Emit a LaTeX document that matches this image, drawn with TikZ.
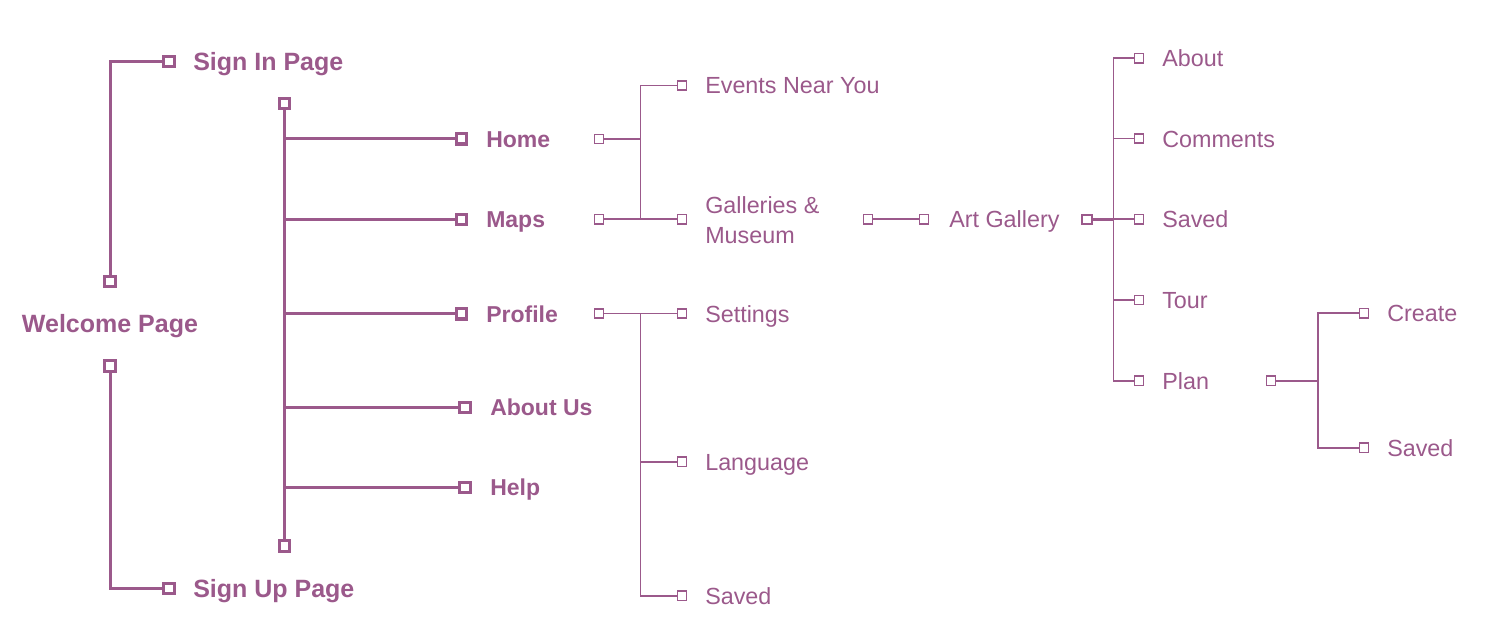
\documentclass[tikz,border=0pt]{standalone}
\usepackage{fontspec}
\setmainfont{Liberation Sans}
\definecolor{plum}{RGB}{155,89,139}
\begin{document}
\begin{tikzpicture}[x=0.75pt,y=-0.75pt]
\tikzset{
 thickbox/.style={draw=plum, line width=2.3pt, minimum size=7.8pt, inner sep=0pt, fill=white},
 thinbox/.style={draw=plum, line width=1.2pt, minimum size=6.9pt, inner sep=0pt, fill=white},
 thickline/.style={draw=plum, line width=2.25pt},
 thinline/.style={draw=plum, line width=1.2pt},
 bigbold/.style={text=plum, font=\fontsize{18.75pt}{22pt}\selectfont\bfseries, anchor=base west, inner sep=0pt, yshift=-6.7pt},
 navbold/.style={text=plum, font=\fontsize{17.25pt}{21pt}\selectfont\bfseries, anchor=base west, inner sep=0pt, yshift=-6.2pt},
 lbl/.style={text=plum, font=\fontsize{17.5pt}{22.5pt}\selectfont, anchor=base west, inner sep=0pt, yshift=-6.3pt},
}
\useasboundingbox (0,0) rectangle (1491,641);
% left part
\node[thickbox] (sqSI) at (169,61.5) {};
\node[thickbox] (sqW1) at (110,281.5) {};
\node[thickbox] (sqW2) at (110,366) {};
\node[thickbox] (sqSU) at (169,588.5) {};
\node[bigbold] (tSI) at (193,61.5) {Sign In Page};
\node[bigbold, anchor=base] (tW) at (110,324) {Welcome Page};
\node[bigbold] (tSU) at (193,588.5) {Sign Up Page};
\draw[thickline] (sqW1.north) |- (sqSI.west);
\draw[thickline] (sqW2.south) |- (sqSU.west);
% main spine
\node[thickbox] (sqT) at (284.5,103.5) {};
\node[thickbox] (sqB) at (284.5,546) {};
\draw[thickline] (sqT.south) -- (sqB.north);
\node[thickbox] (sqHome) at (461.5,138.8) {};
\node[thickbox] (sqMaps) at (461.5,219.3) {};
\node[thickbox] (sqProf) at (461.5,313.8) {};
\node[thickbox] (sqAbUs) at (465,407.7) {};
\node[thickbox] (sqHelp) at (465,487.7) {};
\foreach \s in {sqHome,sqMaps,sqProf,sqAbUs,sqHelp}
  \draw[thickline] (sqT.south |- \s) -- (\s.west);
\node[navbold] (tHome) at (486,138.8) {Home};
\node[navbold] (tMaps) at (486,219.3) {Maps};
\node[navbold] (tProf) at (486,313.8) {Profile};
\node[navbold] (tAbUs) at (490,407.7) {About Us};
\node[navbold] (tHelp) at (490,487.7) {Help};
% home / maps subtree
\node[thinbox] (sqHo) at (599,139) {};
\node[thinbox] (sqMo) at (599,219.3) {};
\node[thinbox] (sqEv) at (682,85.5) {};
\node[thinbox] (sqGal) at (682,219.3) {};
\coordinate (jA) at (640.5,139);
\coordinate (jB) at (640.5,219.3);
\draw[thinline] (sqHo.east) -- (jA);
\draw[thinline] (sqMo.east) -- (sqGal.west);
\draw[thinline] (sqEv.west) -| (jB);
\node[lbl] (tEv) at (705,85.5) {Events Near You};
\node[text=plum, font=\fontsize{17.5pt}{22.5pt}\selectfont, anchor=west, align=left, inner sep=0pt] (tGal) at (705,220) {Galleries \&\\Museum};
% art gallery
\node[thinbox] (sqGo) at (868,219.3) {};
\node[thinbox] (sqAGi) at (924,219.3) {};
\draw[thinline] (sqGo.east) -- (sqAGi.west);
\node[lbl] (tAG) at (949,219.3) {Art Gallery};
\node[thinbox, line width=1.6pt] (sqAGo) at (1087,219.3) {};
\node[thinbox] (sqAb) at (1139,58.3) {};
\node[thinbox] (sqCo) at (1139,138.7) {};
\node[thinbox] (sqSv) at (1139,219.3) {};
\node[thinbox] (sqTo) at (1139,300) {};
\node[thinbox] (sqPl) at (1139,380.7) {};
\coordinate (jC) at (1113.5,380.7);
\draw[thinline] (sqAb.west) -| (jC) -- (sqPl.west);
\foreach \s in {sqCo,sqSv,sqTo}
  \draw[thinline] (jC |- \s) -- (\s.west);
\draw[draw=plum, line width=2pt] (sqAGo.east) -- (jC |- sqAGo);
\node[lbl] (tAb) at (1162,58.3) {About};
\node[lbl] (tCo) at (1162,138.7) {Comments};
\node[lbl] (tSv) at (1162,219.3) {Saved};
\node[lbl] (tTo) at (1162,300) {Tour};
\node[lbl] (tPl) at (1162,380.7) {Plan};
% plan subtree
\node[thinbox] (sqPo) at (1271,380.7) {};
\node[thinbox] (sqCr) at (1364,313.3) {};
\node[thinbox] (sqSv2) at (1364,447.7) {};
\coordinate (jE) at (1318,447.7);
\draw[thinline] (sqCr.west) -| (jE) -- (sqSv2.west);
\draw[thinline] (sqPo.east) -- (jE |- sqPo);
\node[lbl] (tCr) at (1387,313.3) {Create};
\node[lbl] (tSv2) at (1387,447.7) {Saved};
% profile subtree
\node[thinbox] (sqPro) at (599,313.7) {};
\node[thinbox] (sqSe) at (682,313.7) {};
\node[thinbox] (sqLa) at (682,461.7) {};
\node[thinbox] (sqSa) at (682,595.7) {};
\coordinate (jF) at (640.5,313.7);
\draw[thinline] (sqPro.east) -- (sqSe.west);
\draw[thinline] (jF) |- (sqSa.west);
\draw[thinline] (jF |- sqLa) -- (sqLa.west);
\node[lbl] (tSe) at (705,313.7) {Settings};
\node[lbl] (tLa) at (705,461.7) {Language};
\node[lbl] (tSa) at (705,595.7) {Saved};
\end{tikzpicture}
\end{document}
